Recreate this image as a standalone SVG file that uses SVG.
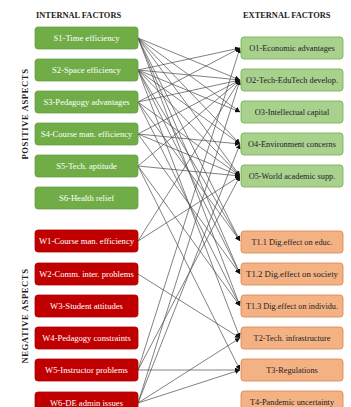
<svg xmlns="http://www.w3.org/2000/svg" width="351" height="407" viewBox="0 0 351 407">
<style>
.bg{fill:#ffffff}
.s{fill:#70ad47;stroke:#6a9f45;stroke-width:0.8}
.w{fill:#c00000;stroke:#b00000;stroke-width:0.8}
.o{fill:#a9d18e;stroke:#70ad47;stroke-width:0.8}
.t{fill:#f4b183;stroke:#d9834a;stroke-width:0.8}
.lt{font-family:"Liberation Serif","Times New Roman",serif;font-size:8.6px;fill:#ffffff;text-anchor:middle}
.rt{font-family:"Liberation Serif","Times New Roman",serif;font-size:8.3px;fill:#222222;text-anchor:middle}
.hd{font-family:"Liberation Serif","Times New Roman",serif;font-size:8.4px;font-weight:bold;fill:#222222}
.vt{font-family:"Liberation Serif","Times New Roman",serif;font-size:8.6px;font-weight:bold;fill:#222222;text-anchor:middle;letter-spacing:0.6px}
#connectors line{stroke:#4a4a4a;stroke-width:0.7;marker-end:url(#ah)}
</style>
<defs>
<marker id="ah" viewBox="0 0 10 10" refX="10" refY="5" markerWidth="5" markerHeight="5" markerUnits="userSpaceOnUse" orient="auto">
<path d="M0,0 L10,5 L0,10 z" fill="#111111"/>
</marker>
</defs>
<rect class="bg" x="0" y="0" width="351" height="407"/>
<text class="hd" x="36" y="18">INTERNAL  FACTORS</text>
<text class="hd" x="243" y="18">EXTERNAL  FACTORS</text>
<text class="vt" transform="translate(27.5,114) rotate(-90)">POSITIVE  ASPECTS</text>
<text class="vt" transform="translate(27.5,316) rotate(-90)">NEGATIVE  ASPECTS</text>

<g id="connectors">
<!-- S1 -->
<line x1="138" y1="38" x2="240" y2="80"/>
<line x1="138" y1="38" x2="240" y2="112"/>
<line x1="138" y1="38" x2="240" y2="144"/>
<line x1="138" y1="38" x2="240" y2="176"/>
<line x1="138" y1="38" x2="240" y2="241"/>
<line x1="138" y1="38" x2="240" y2="274"/>
<line x1="138" y1="38" x2="240" y2="306"/>
<!-- S2 -->
<line x1="138" y1="70" x2="240" y2="48"/>
<line x1="138" y1="70" x2="240" y2="80"/>
<line x1="138" y1="70" x2="240" y2="112"/>
<line x1="138" y1="70" x2="240" y2="144"/>
<line x1="138" y1="70" x2="240" y2="176"/>
<line x1="138" y1="70" x2="240" y2="241"/>
<line x1="138" y1="70" x2="240" y2="274"/>
<line x1="138" y1="70" x2="240" y2="338"/>
<!-- S3 -->
<line x1="138" y1="102" x2="240" y2="48"/>
<line x1="138" y1="102" x2="240" y2="80"/>
<line x1="138" y1="102" x2="240" y2="176"/>
<line x1="138" y1="102" x2="240" y2="241"/>
<line x1="138" y1="102" x2="240" y2="306"/>
<!-- S4 -->
<line x1="138" y1="134" x2="240" y2="80"/>
<line x1="138" y1="134" x2="240" y2="144"/>
<line x1="138" y1="134" x2="240" y2="176"/>
<line x1="138" y1="134" x2="240" y2="274"/>
<!-- S5 -->
<line x1="138" y1="166" x2="240" y2="80"/>
<line x1="138" y1="166" x2="240" y2="176"/>
<line x1="138" y1="166" x2="240" y2="306"/>
<line x1="138" y1="166" x2="240" y2="370"/>
<!-- W1 -->
<line x1="138" y1="241" x2="240" y2="80"/>
<line x1="138" y1="241" x2="240" y2="176"/>
<!-- W2 -->
<line x1="138" y1="274" x2="240" y2="338"/>
<!-- W5 -->
<line x1="138" y1="370" x2="240" y2="48"/>
<line x1="138" y1="370" x2="240" y2="176"/>
<line x1="138" y1="370" x2="240" y2="370"/>
<!-- W6 -->
<line x1="138" y1="403" x2="240" y2="80"/>
<line x1="138" y1="403" x2="240" y2="144"/>
<line x1="138" y1="403" x2="240" y2="338"/>
<line x1="138" y1="403" x2="240" y2="370"/>
</g>

<g id="S1"><rect class="s" x="35" y="27" width="103" height="22" rx="3"/><text class="lt" x="86.5" y="41">S1-Time efficiency</text></g>
<g id="S2"><rect class="s" x="35" y="59" width="103" height="22" rx="3"/><text class="lt" x="86.5" y="73">S2-Space efficiency</text></g>
<g id="S3"><rect class="s" x="35" y="91" width="103" height="22" rx="3"/><text class="lt" x="86.5" y="105">S3-Pedagogy advantages</text></g>
<g id="S4"><rect class="s" x="35" y="123" width="103" height="22" rx="3"/><text class="lt" x="86.5" y="137">S4-Course man. efficiency</text></g>
<g id="S5"><rect class="s" x="35" y="155" width="103" height="22" rx="3"/><text class="lt" x="86.5" y="169">S5-Tech. aptitude</text></g>
<g id="S6"><rect class="s" x="35" y="187" width="103" height="22" rx="3"/><text class="lt" x="86.5" y="201">S6-Health relief</text></g>
<g id="W1"><rect class="w" x="35" y="230" width="103" height="22" rx="3"/><text class="lt" x="86.5" y="244">W1-Course man. efficiency</text></g>
<g id="W2"><rect class="w" x="35" y="263" width="103" height="22" rx="3"/><text class="lt" x="86.5" y="277">W2-Comm. inter. problems</text></g>
<g id="W3"><rect class="w" x="35" y="295" width="103" height="22" rx="3"/><text class="lt" x="86.5" y="309">W3-Student attitudes</text></g>
<g id="W4"><rect class="w" x="35" y="327" width="103" height="22" rx="3"/><text class="lt" x="86.5" y="341">W4-Pedagogy constraints</text></g>
<g id="W5"><rect class="w" x="35" y="359" width="103" height="22" rx="3"/><text class="lt" x="86.5" y="373">W5-Instructor problems</text></g>
<g id="W6"><rect class="w" x="35" y="392" width="103" height="22" rx="3"/><text class="lt" x="86.5" y="406">W6-DE admin issues</text></g>

<g id="O1"><rect class="o" x="241" y="37" width="102" height="22" rx="3"/><text class="rt" x="292" y="51">O1-Economic advantages</text></g>
<g id="O2"><rect class="o" x="241" y="69" width="102" height="22" rx="3"/><text class="rt" x="292" y="83" textLength="92" lengthAdjust="spacingAndGlyphs">O2-Tech-EduTech develop.</text></g>
<g id="O3"><rect class="o" x="241" y="101" width="102" height="22" rx="3"/><text class="rt" x="292" y="115">O3-Intellectual capital</text></g>
<g id="O4"><rect class="o" x="241" y="133" width="102" height="22" rx="3"/><text class="rt" x="292" y="147">O4-Environment concerns</text></g>
<g id="O5"><rect class="o" x="241" y="165" width="102" height="22" rx="3"/><text class="rt" x="292" y="179">O5-World academic supp.</text></g>
<g id="T1_1"><rect class="t" x="241" y="231" width="102" height="22" rx="3"/><text class="rt" x="292" y="245">T1.1 Dig.effect on educ.</text></g>
<g id="T1_2"><rect class="t" x="241" y="263" width="102" height="22" rx="3"/><text class="rt" x="292" y="277" textLength="92" lengthAdjust="spacingAndGlyphs">T1.2 Dig.effect on society</text></g>
<g id="T1_3"><rect class="t" x="241" y="295" width="102" height="22" rx="3"/><text class="rt" x="292" y="309" textLength="92" lengthAdjust="spacingAndGlyphs">T1.3 Dig.effect on individu.</text></g>
<g id="T2"><rect class="t" x="241" y="327" width="102" height="22" rx="3"/><text class="rt" x="292" y="341">T2-Tech. infrastructure</text></g>
<g id="T3"><rect class="t" x="241" y="359" width="102" height="22" rx="3"/><text class="rt" x="292" y="373">T3-Regulations</text></g>
<g id="T4"><rect class="t" x="241" y="391" width="102" height="22" rx="3"/><text class="rt" x="292" y="405">T4-Pandemic uncertainty</text></g>
</svg>
